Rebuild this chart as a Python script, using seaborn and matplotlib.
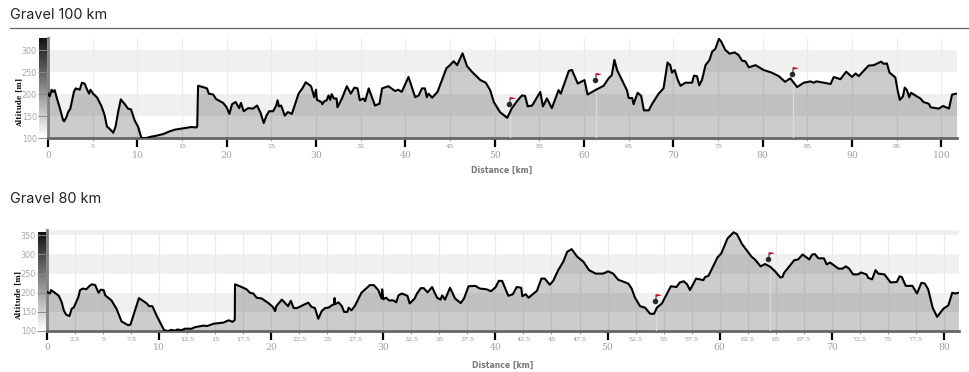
import numpy as np
import pandas as pd
import seaborn as sns
import matplotlib.pyplot as plt
from matplotlib.path import Path

# profile 1
km100 = [0,.2,.4,.56,.75,1,1.3,1.7,1.8,2.05,2.25,2.5,2.9,3.1,3.55,3.8,4.1,4.4,4.6,4.75,5.05,5.5,6,6.35,6.6,6.9,7.3,7.55,7.85,8.15,8.6,8.95,9.3,9.7,10.1,10.45,11,11.55,12.1,12.9,13.6,14.2,15.1,16.05,16.6,16.7,16.8,17.35,17.8,18,18.5,18.8,19.6,20,20.3,20.6,21,21.4,21.6,21.9,22.4,22.95,23.4,23.8,24.15,24.45,24.75,25.2,25.55,25.7,25.85,26.1,26.5,26.85,27.3,27.8,28.05,28.5,28.85,29.45,29.8,30,30.1,30.6,30.7,30.95,31.2,31.4,31.6,31.75,32,32.3,32.4,32.9,33.45,33.9,34.3,34.65,34.9,35.3,35.5,35.9,36.6,37.1,37.4,38.1,38.85,39.2,39.6,40.35,41.1,41.5,41.85,42.2,42.4,42.6,43,43.6,44.1,44.6,45,45.4,45.8,46.4,46.9,47.45,48.4,49,49.5,49.9,50.6,51.4,51.9,52.5,53.05,53.4,53.7,54.2,55.1,55.4,55.85,56.4,57.15,57.4,58.3,58.65,59.3,60.05,60.4,61.25,62.2,62.75,63.1,63.4,63.7,64.25,64.8,65,65.4,65.55,66,66.4,66.7,67.25,67.6,68.35,68.9,69.35,69.65,69.85,70.15,70.5,70.8,71.35,72.1,72.3,72.65,72.9,73.2,73.6,74.05,74.35,74.7,75.1,75.35,75.8,76.3,76.85,77.3,77.7,78.05,78.45,79.2,80.1,81,81.8,82.5,83.1,83.4,83.85,84.6,85.35,85.7,86,86.85,87.6,87.95,88.7,89.35,90,90.4,90.75,91.85,92.45,93.25,93.55,93.9,94.2,94.85,95.1,95.35,95.7,95.9,96.15,96.4,96.6,97.65,98,98.6,98.8,99.7,100.2,100.85,101.2,101.7]
alt100 = [201,195,210,205,209,190,170,140,138,147,159,167,205,213,210,226,224,209,201,210,201,192,172,151,126,121,112,125,159,188,177,167,165,140,125,100,100,103,105,109,115,119,122,125,124,126,219,216,213,201,199,189,180,170,155,177,182,168,180,161,168,167,174,157,134,151,161,161,174,186,172,174,151,159,155,186,201,214,227,218,193,210,187,182,177,184,186,197,187,200,190,190,170,190,218,201,215,213,186,190,184,213,174,178,213,218,207,210,205,239,193,197,213,213,193,201,192,205,232,259,266,275,266,293,264,251,232,226,209,182,159,146,167,184,197,196,172,174,205,172,190,168,209,201,253,255,224,232,199,209,219,236,243,278,255,232,209,191,191,177,203,196,163,163,177,201,213,272,266,249,255,232,219,226,226,242,241,220,232,266,278,297,303,326,320,301,292,295,289,276,275,261,266,255,249,241,228,236,228,216,226,229,226,229,226,223,239,234,251,239,247,241,265,266,274,269,270,249,238,209,187,195,215,209,193,203,190,182,178,170,167,173,167,199,201]
flag_km100 = [51.55, 61.2, 83.3]
flag_alt100 = [177, 232, 245]

# profile 2
km80 = [0,.27,.36,.7,1.05,1.3,1.5,1.7,2,2.2,2.4,2.8,2.95,3.2,3.5,3.8,4,4.3,4.6,4.8,5.05,5.2,5.75,6.2,6.65,7.25,7.45,7.85,8.2,8.9,9.1,9.4,9.8,10.15,10.45,10.8,11.1,11.4,11.65,12,12.3,12.9,13.2,13.95,14.3,14.85,15.75,16.2,16.55,16.75,16.77,17.2,17.8,18.1,18.4,18.7,19.15,19.75,20.15,20.35,20.45,20.95,21.5,21.75,22,22.3,23.3,23.6,23.9,24.2,24.5,24.8,25.1,25.4,25.6,25.65,25.7,26,26.3,26.5,26.8,26.9,27.15,27.45,28.05,28.8,29.15,29.55,29.85,29.9,30,30.25,30.5,30.9,31.15,31.35,31.65,32.15,32.35,32.8,33,33.35,33.6,33.95,34.35,34.55,34.8,35.1,35.25,35.5,35.95,36.4,36.9,37.2,37.6,38.2,38.6,39.2,39.6,40,40.3,40.6,41.15,41.55,41.9,42.3,42.4,42.7,42.95,43.7,44.1,44.4,44.85,45.15,45.6,46.05,46.4,46.8,47.3,47.85,48.35,48.95,49.6,50.05,50.5,50.95,51.85,52.15,52.45,52.9,53.35,53.8,54.15,54.4,54.85,55.65,56.15,56.45,56.8,57.1,57.35,57.9,58.25,58.55,58.7,59,59.8,60.15,60.7,61.25,61.55,62,62.85,63.15,63.65,64.05,64.5,64.95,65.4,65.6,65.75,66.65,67,67.4,68,68.25,68.5,68.8,69.3,69.55,69.85,70.6,70.95,71.25,71.55,71.9,72.35,72.6,73.1,73.25,73.6,73.9,74.15,74.7,75.25,75.8,76.05,76.25,76.6,77.2,77.6,78,78.3,78.6,79,79.4,79.95,80.4,80.75,81,81.3]
alt80 = [202,198,207,200,192,176,154,143,139,158,162,189,207,211,209,218,222,220,200,208,207,193,180,158,125,115,117,154,186,172,165,165,139,119,102,100,103,101,104,102,106,106,110,114,113,119,122,128,124,129,222,217,209,200,198,187,185,173,163,152,165,182,165,179,160,160,174,163,160,132,152,160,161,167,170,186,170,175,165,150,150,161,154,165,200,220,220,207,185,209,183,187,180,180,175,193,198,192,172,185,198,212,212,201,215,202,187,182,193,182,213,185,173,185,217,218,211,209,204,214,231,231,192,196,215,213,191,196,187,205,237,237,221,231,259,281,307,314,294,281,259,250,250,256,250,234,224,211,187,165,161,145,145,161,172,217,215,227,230,222,207,237,235,233,241,244,292,303,342,358,353,327,294,287,269,275,268,256,240,241,252,285,287,300,287,300,301,290,290,274,279,263,263,269,263,248,248,253,248,239,235,259,250,248,227,228,243,241,218,218,198,226,224,209,161,137,158,167,200,198,200]
flag_km80 = [54.2, 64.35]
flag_alt80 = [179, 287]

major100 = [0, 10, 20, 30, 40, 50, 60, 70, 80, 90, 100]
minor100 = [5, 15, 25, 35, 45, 55, 65, 75, 85, 95]
major80 = [0, 10, 20, 30, 40, 50, 60, 70, 80]
minor80 = [2.5, 5, 7.5, 12.5, 15, 17.5, 22.5, 25, 27.5, 32.5, 35, 37.5, 42.5, 45, 47.5, 52.5, 55, 57.5, 62.5, 65, 67.5, 72.5, 75, 77.5]
yticks100 = [100, 150, 200, 250, 300]
yticks80 = [100, 150, 200, 250, 300, 350]

W, H = 969, 372

sns.set_theme(style="white")
plt.rcParams['font.family'] = ['DejaVu Sans']

fig = plt.figure(figsize=(W / 100, H / 100), dpi=100)


def box(left, top, right, bottom):
    return [left / W, 1 - bottom / H, (right - left) / W, (bottom - top) / H]


def fmt(v):
    return f"{v:g}"


def profile(km, alt, flag_km, flag_alt, major, minor, yticks, xmax, ymax, rect, bar_rect, xlabel_px, ylabel_px):
    # grey gradient strip left of the axis
    bar = fig.add_axes(box(*bar_rect))
    bar.imshow(np.linspace(0.07, 1, 200).reshape(-1, 1), cmap="gray", vmin=0, vmax=1, aspect="auto")
    bar.axis("off")

    ax = fig.add_axes(box(*rect))
    ax.set_xlim(0, xmax)
    ax.set_ylim(100, ymax)

    # stripes every other 50 m
    for low in range(150, int(ymax), 100):
        ax.axhspan(low, min(low + 50, ymax), color="#f0f0f0", lw=0, zorder=0)
    ax.vlines(major + minor, 100, ymax, color="#ebebeb", lw=0.9, zorder=1)

    ax.fill_between(km, alt, 100, color="black", alpha=0.2, lw=0, zorder=2)
    ax.vlines(np.array(flag_km) + 0.12, 100, np.interp(flag_km, km, alt), color="#dadada", lw=0.9, zorder=3)

    df = pd.DataFrame({"km": km, "alt": alt})
    sns.lineplot(data=df, x="km", y="alt", color="black", lw=1.5, ax=ax, zorder=4,
                 estimator=None, sort=False, solid_joinstyle="round")
    ax.set_xlabel("")
    ax.set_ylabel("")

    # flag marker, unit is one pixel or so
    pennant = Path([(0.7, 7.5), (6.5, 6.3), (0.7, 4.8), (0.7, 7.5)], closed=True)
    pole = Path([(0.2, 0), (0.2, 7.5), (0.9, 7.5), (0.9, 0), (0.2, 0)], closed=True)
    sns.scatterplot(x=flag_km, y=flag_alt, color="#2b2b2b", s=16, lw=0, ax=ax, zorder=5)
    ax.plot(flag_km, flag_alt, ls="", marker=pole, ms=10.8, mfc="#222222", mec="none", zorder=5)
    ax.plot(flag_km, flag_alt, ls="", marker=pennant, ms=10.8, mfc="#d0021b", mec="none", zorder=6)

    ax.set_xticks(major)
    ax.set_xticklabels([fmt(v) for v in major], family="DejaVu Serif", fontsize=6.7, color="#a0a0a0")
    ax.set_xticks(minor, minor=True)
    ax.set_xticklabels([fmt(v) for v in minor], minor=True, family="DejaVu Serif", fontsize=4.6, color="#909090")
    ax.tick_params(axis="x", which="major", bottom=True, length=6.5, width=1.6, color="black", pad=2.5)
    ax.tick_params(axis="x", which="minor", bottom=True, length=2.5, width=0.7, color="#999999", pad=1.5)
    ax.set_yticks(yticks)
    ax.set_yticklabels([str(v) for v in yticks], fontsize=5.8, color="#a8a8a8")
    ax.tick_params(axis="y", which="major", left=True, length=7, width=0.7, color="#8a8a8a", pad=1)

    for side in ["top", "right"]:
        ax.spines[side].set_visible(False)
    ax.spines["left"].set_color("#7f7f7f")
    ax.spines["left"].set_linewidth(2)
    ax.spines["bottom"].set_color("#666666")
    ax.spines["bottom"].set_linewidth(2)

    fig.text(xlabel_px[0] / W, 1 - xlabel_px[1] / H, "Distance [km]", fontsize=5.6, fontweight="bold",
             color="#777777", ha="center", va="center")
    fig.text(ylabel_px[0] / W, 1 - ylabel_px[1] / H, "Altitude [m]", fontsize=5.1, fontweight="bold",
             color="#111111", rotation=90, ha="center", va="center", family="DejaVu Serif")
    return ax


profile(km100, alt100, flag_km100, flag_alt100, major100, minor100, yticks100, 101.75, 329,
        (48, 37.5, 957, 138), (39, 38, 47, 137), (502, 170), (19, 102))
profile(km80, alt80, flag_km80, flag_alt80, major80, minor80, yticks80, 81.35, 364,
        (47, 230, 959, 331), (38, 232, 46, 331), (503, 365), (18, 295))

fig.text(10 / W, 1 - 19 / H, "Gravel 100 km", fontsize=10.4, color="#222222", family="Inter", va="baseline")
fig.text(10 / W, 1 - 203 / H, "Gravel 80 km", fontsize=10.4, color="#222222", family="Inter", va="baseline")
fig.add_artist(plt.Line2D([10 / W, 1], [1 - 27.5 / H, 1 - 27.5 / H], color="#666666", lw=0.9))

fig.savefig("out.png", dpi=100)
